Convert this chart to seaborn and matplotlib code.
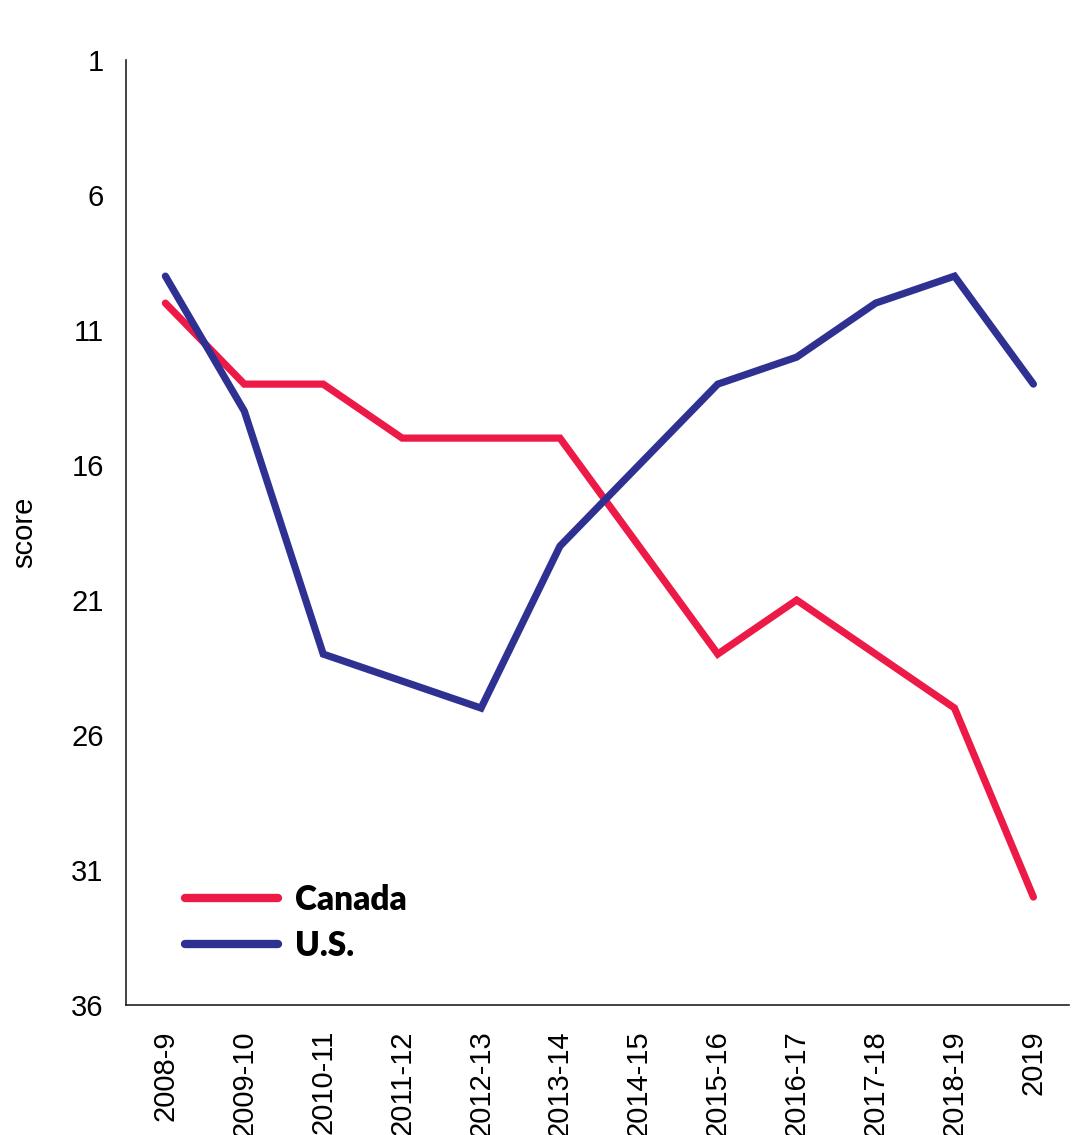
import pandas as pd
import matplotlib.pyplot as plt
import seaborn as sns

seasons = ['2008-9', '2009-10', '2010-11', '2011-12', '2012-13', '2013-14',
           '2014-15', '2015-16', '2016-17', '2017-18', '2018-19', '2019']
canada = [10, 13, 13, 15, 15, 15, 19, 23, 21, 23, 25, 32]
us = [9, 14, 23, 24, 25, 19, 16, 13, 12, 10, 9, 13]
y_ticks = [1, 6, 11, 16, 21, 26, 31, 36]

df = pd.DataFrame({
    'season': seasons * 2,
    'score': canada + us,
    'country': ['Canada'] * len(seasons) + ['U.S.'] * len(seasons),
})

sns.set_style('white')
plt.rcParams['font.family'] = ['Liberation Sans Narrow', 'Liberation Sans', 'DejaVu Sans']
plt.rcParams['text.color'] = 'black'
plt.rcParams['axes.labelcolor'] = 'black'
plt.rcParams['xtick.color'] = 'black'
plt.rcParams['ytick.color'] = 'black'

fig = plt.figure(figsize=(10.83, 11.35), dpi=100)
ax = fig.add_axes([0.1163, 0.1145, 0.8707, 0.8325])

sns.lineplot(data=df, x='season', y='score', hue='country', sort=False,
             palette={'Canada': '#ED1A47', 'U.S.': '#2E3192'},
             linewidth=5.2, ax=ax)
for line in ax.lines:
    line.set_solid_capstyle('round')
    line.set_solid_joinstyle('miter')

ax.set_ylim(36, 1)
ax.set_xlim(-0.5, 11.45)
ax.set_yticks(y_ticks)
ax.tick_params(axis='both', length=0, labelsize=21)
ax.tick_params(axis='y', pad=16)
ax.tick_params(axis='x', pad=18, labelrotation=90)
ax.set_xlabel('')
ax.set_ylabel('score', fontsize=21, family=['Liberation Sans', 'DejaVu Sans'], labelpad=24)

sns.despine(ax=ax)
for side in ['left', 'bottom']:
    ax.spines[side].set_color('#222222')
    ax.spines[side].set_linewidth(1.2)

leg = ax.legend(loc='lower left', bbox_to_anchor=(0.045, 0.028), frameon=False,
                borderpad=0, handlelength=2.8, handletextpad=0.5, labelspacing=0.42,
                prop={'family': ['Lato', 'DejaVu Sans'], 'weight': 'heavy', 'size': 24})
for h in leg.get_lines():
    h.set_linewidth(6)
    h.set_solid_capstyle('round')

fig.savefig('out.png', dpi=100)
